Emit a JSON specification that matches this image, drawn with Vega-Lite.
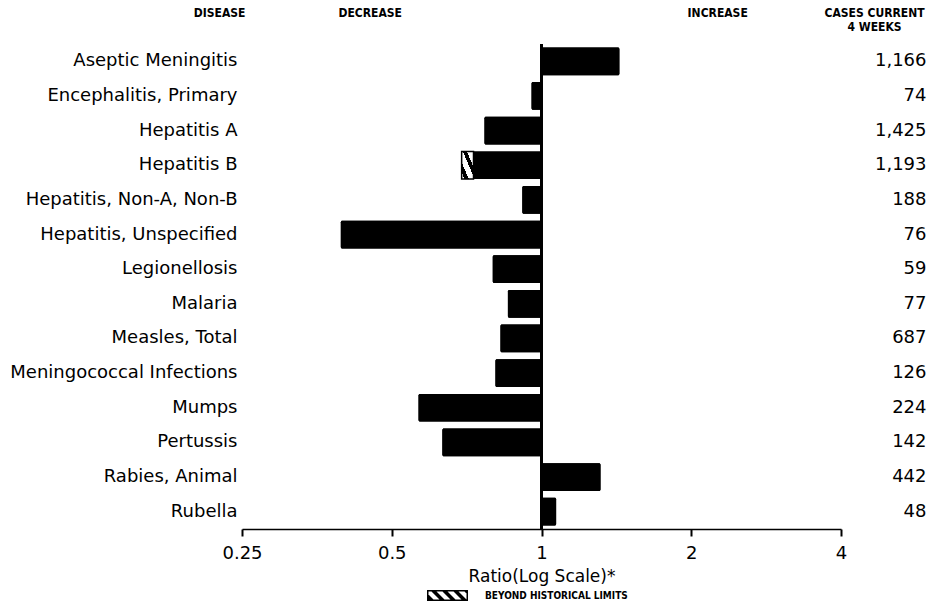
{
  "$schema": "https://vega.github.io/schema/vega-lite/v6.json",
  "width": 599,
  "height": 485,
  "autosize": "none",
  "padding": {"left": 242, "top": 44, "right": 101, "bottom": 81},
  "background": "white",
  "data": {
    "values": [
      {"disease": "Aseptic Meningitis", "ratio": 1.434, "hist_limit": null, "cases": "1,166"},
      {"disease": "Encephalitis, Primary", "ratio": 0.955, "hist_limit": null, "cases": "74"},
      {"disease": "Hepatitis A", "ratio": 0.768, "hist_limit": null, "cases": "1,425"},
      {"disease": "Hepatitis B", "ratio": 0.691, "hist_limit": 0.73, "cases": "1,193"},
      {"disease": "Hepatitis, Non-A, Non-B", "ratio": 0.915, "hist_limit": null, "cases": "188"},
      {"disease": "Hepatitis, Unspecified", "ratio": 0.395, "hist_limit": null, "cases": "76"},
      {"disease": "Legionellosis", "ratio": 0.798, "hist_limit": null, "cases": "59"},
      {"disease": "Malaria", "ratio": 0.856, "hist_limit": null, "cases": "77"},
      {"disease": "Measles, Total", "ratio": 0.827, "hist_limit": null, "cases": "687"},
      {"disease": "Meningococcal Infections", "ratio": 0.808, "hist_limit": null, "cases": "126"},
      {"disease": "Mumps", "ratio": 0.566, "hist_limit": null, "cases": "224"},
      {"disease": "Pertussis", "ratio": 0.632, "hist_limit": null, "cases": "142"},
      {"disease": "Rabies, Animal", "ratio": 1.314, "hist_limit": null, "cases": "442"},
      {"disease": "Rubella", "ratio": 1.07, "hist_limit": null, "cases": "48"}
    ]
  },
  "layer": [
    {
      "mark": {"type": "bar", "cornerRadius": 1.5},
      "encoding": {
        "y": {"field": "cases", "type": "nominal", "sort": null,
              "scale": {"paddingInner": 0.2, "paddingOuter": 0.1},
              "axis": {"orient": "right", "title": null}},
        "x": {"field": "ratio", "type": "quantitative",
              "scale": {"type": "log", "domain": [0.25, 4], "nice": false},
              "axis": {"orient": "top", "title": null,
                       "values": [0.2535, 0.4516, 2.255, 3.9],
                       "labelExpr": "datum.value < 0.3 ? 'DISEASE' : datum.value < 1 ? 'DECREASE' : datum.value < 3 ? 'INCREASE' : ['CASES CURRENT', '4 WEEKS']",
                       "labelAlign": {"condition": {"test": "datum.value < 0.3", "value": "right"}, "value": "center"},
                       "labelOffset": {"condition": {"test": "datum.value > 3", "value": 38.5}, "value": 0}}},
        "x2": {"datum": 1},
        "color": {
          "datum": "BEYOND HISTORICAL LIMITS",
          "scale": {"range": ["black"]},
          "legend": {
            "orient": "none", "legendX": 185, "legendY": 531, "title": null,
            "symbolType": "M-1,-0.268H1V0.268H-1Z M-0.927,-0.195V0.195H0.927V-0.195Z M-1,-0.122L-0.61,0.268L-0.854,0.268L-1,0.122Z M-0.854,-0.268L-0.61,-0.268L-0.073,0.268L-0.317,0.268Z M-0.317,-0.268L-0.073,-0.268L0.463,0.268L0.22,0.268Z M0.22,-0.268L0.463,-0.268L1,0.268L0.756,0.268Z M0.756,-0.268L1,-0.268L1,-0.024Z",
            "symbolSize": 1681, "symbolStrokeWidth": 0,
            "labelFont": "DejaVu Sans Condensed", "labelFontWeight": "bold",
            "labelFontSize": 10, "labelColor": "black", "labelOffset": 17
          }
        }
      }
    },
    {
      "layer": [
        {
          "mark": {"type": "bar", "color": "black", "cornerRadius": 1.5},
          "encoding": {
            "y": {"field": "disease", "type": "nominal", "sort": null,
                  "scale": {"paddingInner": 0.2, "paddingOuter": 0.1},
                  "axis": {"orient": "left", "title": null}},
            "x": {"field": "ratio", "type": "quantitative",
                  "scale": {"type": "log", "domain": [0.25, 4], "nice": false},
                  "axis": {"orient": "bottom", "values": [0.25, 0.5, 1, 2, 4],
                           "labelExpr": "format(datum.value, '~g')",
                           "title": "Ratio(Log Scale)*"}},
            "x2": {"datum": 1}
          }
        },
        {
          "transform": [{"filter": "isValid(datum.hist_limit)"}],
          "mark": {
            "type": "bar",
            "fill": {
              "gradient": "linear", "x1": 0, "y1": 1, "x2": 1, "y2": 0,
              "stops": [
                {"offset": 0, "color": "white"},
                {"offset": 0.12, "color": "white"},
                {"offset": 0.12, "color": "black"},
                {"offset": 0.3, "color": "black"},
                {"offset": 0.3, "color": "white"},
                {"offset": 0.55, "color": "white"},
                {"offset": 0.55, "color": "black"},
                {"offset": 0.72, "color": "black"},
                {"offset": 0.72, "color": "white"},
                {"offset": 1, "color": "white"}
              ]
            },
            "stroke": "black",
            "strokeWidth": 1.5
          },
          "encoding": {
            "y": {"field": "disease", "type": "nominal", "sort": null},
            "x": {"field": "ratio", "type": "quantitative"},
            "x2": {"field": "hist_limit"}
          }
        },
        {
          "mark": {"type": "rule", "color": "black", "strokeWidth": 2},
          "encoding": {"x": {"datum": 1}}
        }
      ]
    }
  ],
  "resolve": {"scale": {"y": "independent"}, "axis": {"x": "independent", "y": "independent"}},
  "config": {
    "view": {"stroke": null},
    "font": "DejaVu Sans",
    "axis": {"labelColor": "black", "titleColor": "black", "domainColor": "black", "tickColor": "black", "grid": false},
    "axisBottom": {"domainWidth": 1.5, "tickSize": 7, "tickWidth": 2, "labelFontSize": 18, "labelPadding": 8, "labelFlush": false, "titleFontSize": 17, "titleFontWeight": "normal", "titlePadding": 6},
    "axisLeft": {"ticks": false, "domain": false, "labelFontSize": 18, "labelPadding": 5, "labelLimit": 300},
    "axisRight": {"ticks": false, "domain": false, "labelFontSize": 18, "labelPadding": 85, "labelAlign": "right"},
    "axisTop": {"ticks": false, "domain": false, "labelFont": "DejaVu Sans Condensed", "labelFontWeight": "bold", "labelFontSize": 12, "labelPadding": 37, "labelBaseline": "top", "labelFlush": false, "labelOverlap": false, "labelLineHeight": 14}
  }
}
